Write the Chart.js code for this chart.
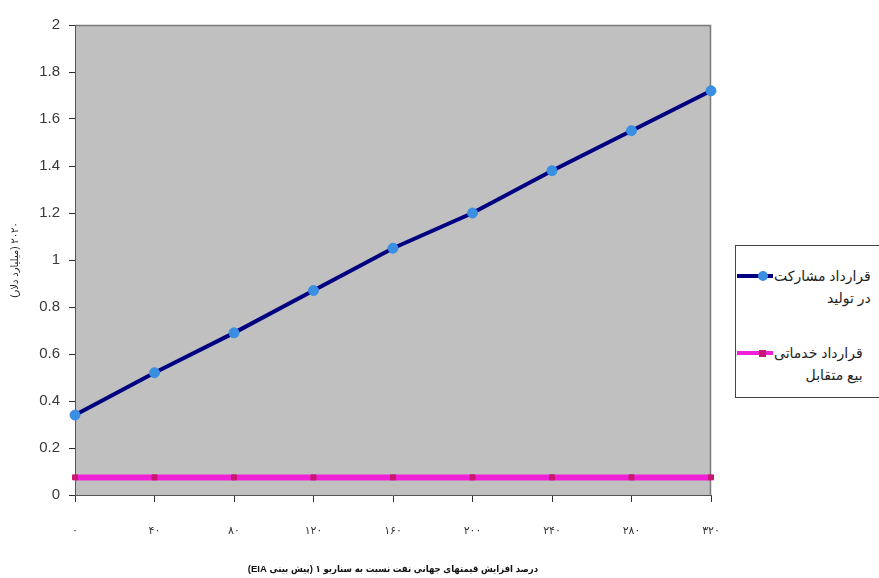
<!DOCTYPE html>
<html>
<head>
<meta charset="utf-8">
<script src="https://cdn.jsdelivr.net/npm/chart.js@4.4.1/dist/chart.umd.min.js"></script>
<style>
  html, body { margin: 0; padding: 0; background: #fff; overflow: hidden; }
  #wrap { position: relative; width: 879px; height: 578px; overflow: hidden; }
  #legend {
    position: absolute; left: 735px; top: 245px; width: 300px; height: 153px;
    border: 1px solid #444; border-right: none; background: #fff; box-sizing: border-box;
    font: 14px "Liberation Sans", "DejaVu Sans", sans-serif; color: #222;
  }
  .item { position: absolute; left: 1px; display: flex; align-items: flex-start; }
  .swatch { position: relative; width: 36px; height: 12px; flex: none; margin-top: 5px; }
  .swatch .ln { position: absolute; left: 0; right: 0; top: 4px; height: 4px; }
  .swatch .mk { position: absolute; top: 1px; left: 21px; width: 10px; height: 10px; }
  .txt { direction: rtl; text-align: right; line-height: 22px; margin-left: 1px; white-space: nowrap; }
</style>
</head>
<body>
<div id="wrap">
  <canvas id="chart" width="879" height="578"></canvas>
  <div id="legend"></div>
</div>
<script>
// Horizontal axis: percent increase in world oil prices (Persian numerals)
const categories = ['۰', '۴۰', '۸۰', '۱۲۰', '۱۶۰', '۲۰۰', '۲۴۰', '۲۸۰', '۳۲۰'];

// Production-sharing contract values (billion dollars)
const sharingValues = [0.34, 0.52, 0.69, 0.87, 1.05, 1.20, 1.38, 1.55, 1.72];

// Buy-back service contract values (billion dollars)
const buybackValues = [0.075, 0.075, 0.075, 0.075, 0.075, 0.075, 0.075, 0.075, 0.075];

// Series names, one entry per legend line
const sharingName = ['قرارداد مشارکت', 'در تولید'];
const buybackName = ['قرارداد خدماتی', 'بیع متقابل'];

// Axis titles
const xTitle = 'درصد افزایش قیمتهای جهانی نفت نسبت به سناریو ۱ (پیش بینی EIA)';
const yTitle = '۲۰۲۰ (میلیارد دلار)';

const FONT = '"Liberation Sans", "DejaVu Sans", sans-serif';
const TITLE_FONT = '"Liberation Sans", "DejaVu Sans Condensed", "DejaVu Sans", sans-serif';
const rtl = s => '\u202B' + s + '\u202C';

// Grey plot area with a thin frame on the top and right edges
const plotFrame = {
  id: 'plotFrame',
  beforeDraw(chart) {
    const { ctx, chartArea: a } = chart;
    ctx.save();
    ctx.fillStyle = '#c0c0c0';
    ctx.fillRect(a.left, a.top, a.right - a.left, a.bottom - a.top);
    ctx.strokeStyle = '#7a7a7a';
    ctx.lineWidth = 1.5;
    ctx.beginPath();
    ctx.moveTo(a.left, a.top + 0.5);
    ctx.lineTo(a.right - 0.5, a.top + 0.5);
    ctx.lineTo(a.right - 0.5, a.bottom);
    ctx.stroke();
    ctx.restore();
  }
};

const datasets = [
  {
    label: sharingName.join(' '),
    names: sharingName,
    data: sharingValues,
    borderColor: '#000080',
    borderWidth: 4,
    pointStyle: 'circle',
    pointRadius: 5,
    pointBackgroundColor: '#3a8fe3',
    pointBorderColor: '#3a8fe3',
    pointBorderWidth: 1,
    clip: false,
    tension: 0
  },
  {
    label: buybackName.join(' '),
    names: buybackName,
    data: buybackValues,
    borderColor: '#f020d8',
    borderWidth: 6,
    pointStyle: 'rect',
    pointRadius: 3.5,
    pointBackgroundColor: '#c81870',
    pointBorderColor: '#c81870',
    pointBorderWidth: 1,
    clip: false,
    tension: 0
  }
];

const chart = new Chart(document.getElementById('chart'), {
  type: 'line',
  data: { labels: categories, datasets },
  options: {
    responsive: false,
    animation: false,
    layout: { padding: { top: 25, right: 168, left: 0, bottom: 0 } },
    plugins: { legend: { display: false }, tooltip: { enabled: false } },
    scales: {
      x: {
        offset: false,
        grid: { display: true, drawOnChartArea: false, tickLength: 7, color: '#333', tickColor: '#333' },
        border: { display: true, color: '#555', width: 1 },
        ticks: { padding: 22, color: '#333', font: { family: FONT, size: 11 }, maxRotation: 0, autoSkip: false },
        title: {
          display: true, text: rtl(xTitle), color: '#111',
          font: { family: TITLE_FONT, size: 9.5, weight: 'bold' }, padding: { top: 0, bottom: 3 }
        },
        afterFit(s) { s.height = 83; }
      },
      y: {
        min: 0, max: 2,
        grid: { display: true, drawOnChartArea: false, tickLength: 6, color: '#333', tickColor: '#333' },
        border: { display: true, color: '#555', width: 1 },
        ticks: {
          stepSize: 0.2, padding: 9, color: '#3a3a3a', font: { family: FONT, size: 15 },
          callback: v => String(Number(v.toFixed(1)))
        },
        title: {
          display: true, text: rtl(yTitle), color: '#222',
          font: { family: FONT, size: 10 }, padding: { top: 9, bottom: 0 }
        },
        afterFit(s) { s.width = 75; }
      }
    }
  },
  plugins: [plotFrame]
});

// Legend built from the chart's datasets
const legend = document.getElementById('legend');
const tops = [19, 96];
chart.data.datasets.forEach((ds, i) => {
  const item = document.createElement('div');
  item.className = 'item';
  item.style.top = tops[i] + 'px';
  const sw = document.createElement('div');
  sw.className = 'swatch';
  const ln = document.createElement('div');
  ln.className = 'ln';
  ln.style.background = ds.borderColor;
  const mk = document.createElement('div');
  mk.className = 'mk';
  mk.style.background = ds.pointBackgroundColor;
  if (ds.pointStyle === 'circle') mk.style.borderRadius = '50%';
  else { mk.style.width = '7px'; mk.style.height = '7px'; mk.style.top = '2.5px'; mk.style.left = '22px'; }
  sw.appendChild(ln); sw.appendChild(mk);
  const txt = document.createElement('div');
  txt.className = 'txt';
  txt.innerHTML = ds.names.join('<br>');
  item.appendChild(sw); item.appendChild(txt);
  legend.appendChild(item);
});
</script>
</body>
</html>
